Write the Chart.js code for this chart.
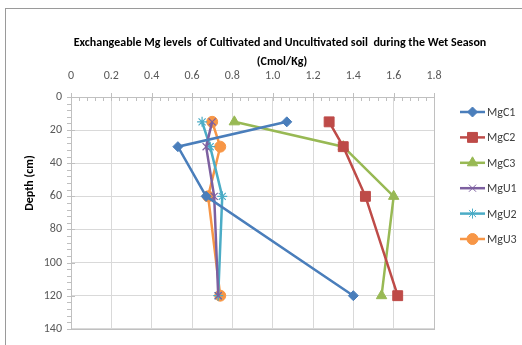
<!DOCTYPE html>
<html>
<head>
<meta charset="utf-8">
<script src="https://cdn.jsdelivr.net/npm/chart.js@4.4.1/dist/chart.umd.min.js"></script>
<style>
  html, body { margin: 0; padding: 0; background: #fff; overflow: hidden; }
  #wrap { position: relative; width: 522px; height: 345px; }
  #frame { position: absolute; left: 5px; top: 8px; width: 600px; height: 400px;
           border-top: 1px solid #9a9a9a; border-left: 1px solid #9a9a9a; pointer-events: none; }
</style>
</head>
<body>
<div id="wrap">
  <canvas id="js--chart" width="522" height="345"></canvas>
  <div id="frame"></div>
</div>
<script>
const depths = [15, 30, 60, 120];

const mgC1 = [1.07, 0.53, 0.67, 1.40];
const mgC2 = [1.28, 1.35, 1.46, 1.62];
const mgC3 = [0.81, 1.35, 1.60, 1.54];
const mgU1 = [0.70, 0.67, 0.71, 0.73];
const mgU2 = [0.65, 0.69, 0.75, 0.73];
const mgU3 = [0.70, 0.74, 0.68, 0.74];

const seriesNames = ["MgC1", "MgC2", "MgC3", "MgU1", "MgU2", "MgU3"];
const seriesValues = [mgC1, mgC2, mgC3, mgU1, mgU2, mgU3];
const colors = ["#4A7EBB", "#BE4B48", "#98B954", "#7D60A0", "#4BACC6", "#F79646"];
const markers = ["rectRot", "rect", "triangle", "crossRot", "star", "circle"];
const markerSize = [5, 7, 6, 5, 5, 5.5];

const FONT = 'Carlito, "Liberation Sans Narrow", "Open Sans", sans-serif';

function toPoints(vals) {
    return depths.map(function (d, i) { return { x: vals[i], y: d }; });
}

const datasets = seriesNames.map(function (name, i) {
    return {
        label: name,
        data: toPoints(seriesValues[i]),
        showLine: true,
        borderColor: colors[i],
        backgroundColor: colors[i],
        borderWidth: 2.5,
        pointStyle: markers[i],
        pointRadius: markerSize[i],
        pointBorderWidth: (i == 3 || i == 4) ? 1.2 : 1,
        pointBorderColor: colors[i],
        pointBackgroundColor: colors[i]
    };
});

// plot border, drawn under the lines
const plotBorder = {
    id: "plotBorder",
    beforeDatasetsDraw: function (chart) {
        const ctx = chart.ctx;
        const a = chart.chartArea;
        ctx.save();
        ctx.strokeStyle = "#c0c0c0";
        ctx.lineWidth = 1;
        ctx.strokeRect(Math.round(a.left) + 0.5, Math.round(a.top) + 0.5,
                       Math.round(a.right - a.left), Math.round(a.bottom - a.top));
        ctx.restore();
    }
};

// title, axis title, minor ticks and legend
const extras = {
    id: "extras",
    afterDraw: function (chart) {
        const ctx = chart.ctx;
        const xs = chart.scales.x;
        const ys = chart.scales.y;
        const area = chart.chartArea;
        ctx.save();

        // ticks
        ctx.strokeStyle = "#bfbfbf";
        ctx.lineWidth = 1;
        ctx.beginPath();
        for (let v = 0; v <= 1.8001; v += 0.04) {
            const px = Math.round(xs.getPixelForValue(v)) + 0.5;
            const major = Math.abs(v / 0.2 - Math.round(v / 0.2)) < 0.01;
            ctx.moveTo(px, area.top - (major ? 4 : 0));
            ctx.lineTo(px, area.top + 4);
        }
        for (let v = 0; v <= 140; v += 4) {
            const py = Math.round(ys.getPixelForValue(v)) + 0.5;
            const major = v % 20 == 0;
            ctx.moveTo(area.left - 4, py);
            ctx.lineTo(area.left + (major ? 4 : 0), py);
        }
        ctx.stroke();

        // title
        ctx.fillStyle = "#000";
        ctx.textAlign = "center";
        ctx.textBaseline = "middle";
        ctx.font = "bold 12px " + FONT;
        ctx.fillText("Exchangeable Mg levels  of Cultivated and Uncultivated soil  during the Wet Season", 280, 43);
        ctx.fillText("(Cmol/Kg)", 282, 62);

        // y axis title
        ctx.save();
        ctx.translate(30, 183);
        ctx.rotate(-Math.PI / 2);
        ctx.fillText("Depth (cm)", 0, 0);
        ctx.restore();

        // legend
        ctx.font = "12px " + FONT;
        ctx.textAlign = "left";
        chart.data.datasets.forEach(function (ds, i) {
            const y = 112 + i * 25.4;
            ctx.strokeStyle = ds.borderColor;
            ctx.lineWidth = 2.5;
            ctx.beginPath();
            ctx.moveTo(460, y);
            ctx.lineTo(485, y);
            ctx.stroke();
            ctx.fillStyle = ds.backgroundColor;
            ctx.lineWidth = 1;
            Chart.helpers.drawPoint(ctx, { pointStyle: ds.pointStyle, radius: ds.pointRadius, borderWidth: 1 }, 472.5, y);
            ctx.fillStyle = "#404040";
            ctx.fillText(ds.label, 487, y + 1);
        });
        ctx.restore();
    }
};

const config = {
    type: "scatter",
    data: { datasets: datasets },
    options: {
        responsive: false,
        animation: false,
        layout: { padding: { left: 0, top: 0, right: 88, bottom: 15 } },
        plugins: {
            legend: { display: false },
            title: { display: false },
            tooltip: { enabled: false }
        },
        scales: {
            x: {
                type: "linear",
                position: "top",
                min: 0,
                max: 1.8,
                ticks: { stepSize: 0.2, padding: 14, color: "#595959", font: { family: FONT, size: 12 } },
                grid: { color: "#d9d9d9", drawTicks: false },
                border: { display: true, color: "#bfbfbf" },
                afterFit: function (scale) { scale.height = 97; }
            },
            y: {
                type: "linear",
                reverse: true,
                min: 0,
                max: 140,
                ticks: { stepSize: 20, padding: 9, color: "#595959", font: { family: FONT, size: 12 } },
                grid: { color: "#d9d9d9", drawTicks: false },
                border: { display: true, color: "#bfbfbf" },
                afterFit: function (scale) { scale.width = 71; }
            }
        }
    },
    plugins: [plotBorder, extras]
};

new Chart(document.getElementById("js--chart"), config);
</script>
</body>
</html>
